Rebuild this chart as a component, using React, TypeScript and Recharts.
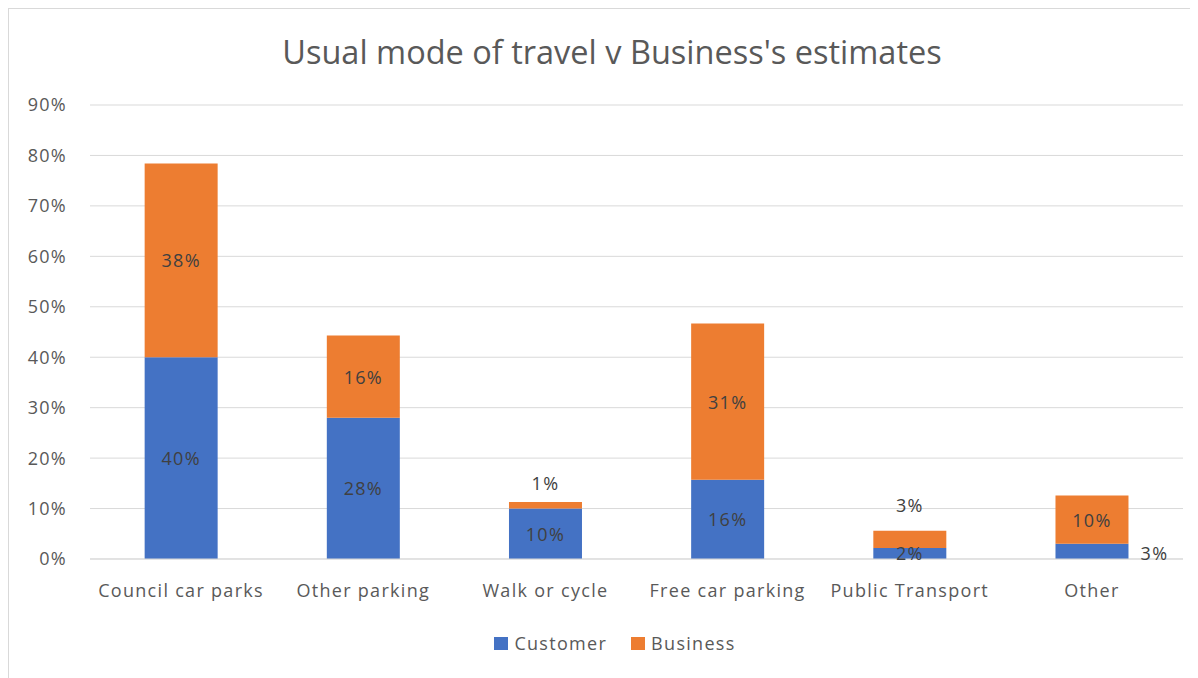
import { BarChart, Bar, XAxis, YAxis, CartesianGrid, Legend, LabelList } from 'recharts';

const categories = ['Council car parks', 'Other parking', 'Walk or cycle', 'Free car parking', 'Public Transport', 'Other'];
const customer = [40, 28, 10, 15.7, 2.2, 3];
const business = [38.4, 16.3, 1.3, 31, 3.4, 9.6];
const yTicks = [0, 10, 20, 30, 40, 50, 60, 70, 80, 90];

const SERIES = [
  { key: 'Customer', color: '#4472C4' },
  { key: 'Business', color: '#ED7D31' },
];

const data = categories.map((name, i) => ({ name, Customer: customer[i], Business: business[i] }));

const FONT = '"Open Sans", sans-serif';
const TEXT = '#595959';
const tickStyle = { fill: TEXT, fontSize: 18, fontFamily: FONT, letterSpacing: 1.3 };

// Excel "best fit" style labels: small segments get pushed outside the bar
function makeLabel(series: string) {
  return (props: any) => {
    const { x, y, width, height, value, index } = props;
    let cx = x + width / 2;
    let cy = y + height / 2;
    if (series === 'Business' && height < 20) {
      cy = y - 15 - height * 0.6;
    }
    if (series === 'Customer' && index === categories.length - 1) {
      cx = x + width + 26;
      cy = y + height / 2 + 2;
    }
    return (
      <text x={cx} y={cy} textAnchor="middle" dominantBaseline="central" fill="#404040" fontSize={18} fontFamily={FONT} letterSpacing={1.3}>
        {Math.round(value)}%
      </text>
    );
  };
}

function LegendContent() {
  return (
    <div style={{ height: 26, display: 'flex', justifyContent: 'center', alignItems: 'center', fontFamily: FONT, fontSize: 18, letterSpacing: 1.3, color: TEXT }}>
      {SERIES.map((s, i) => (
        <div key={s.key} style={{ display: 'flex', alignItems: 'center', marginRight: i === 0 ? 24 : 0 }}>
          <span style={{ width: 14, height: 13, background: s.color, marginRight: 6, display: 'inline-block' }} />
          <span>{s.key}</span>
        </div>
      ))}
    </div>
  );
}

export default function App() {
  return (
    <div style={{ position: 'relative', width: 1181, height: 680, border: '1px solid #d9d9d9', background: '#fff' }}>
      <div style={{ position: 'absolute', left: 0, top: 20, width: 1206, textAlign: 'center', fontFamily: FONT, fontSize: 32.5, color: TEXT }}>
        Usual mode of travel v Business's estimates
      </div>
      <BarChart width={1181} height={669} data={data} margin={{ top: 96, right: 7, left: 0, bottom: 22 }} barCategoryGap="30%">
        <CartesianGrid vertical={false} stroke="#d9d9d9" />
        <XAxis
          dataKey="name"
          height={71}
          tickLine={false}
          axisLine={{ stroke: '#d9d9d9' }}
          tickMargin={19}
          tick={tickStyle}
        />
        <YAxis
          width={81}
          domain={[0, 90]}
          ticks={yTicks}
          tickFormatter={(v: number) => `${v}%`}
          axisLine={false}
          tickLine={false}
          tickMargin={17}
          tick={tickStyle}
        />
        <Legend verticalAlign="bottom" content={<LegendContent />} wrapperStyle={{ left: 19 }} />
        {SERIES.map((s) => (
          <Bar key={s.key} dataKey={s.key} stackId="a" fill={s.color} isAnimationActive={false}>
            <LabelList dataKey={s.key} content={makeLabel(s.key)} />
          </Bar>
        ))}
      </BarChart>
    </div>
  );
}
